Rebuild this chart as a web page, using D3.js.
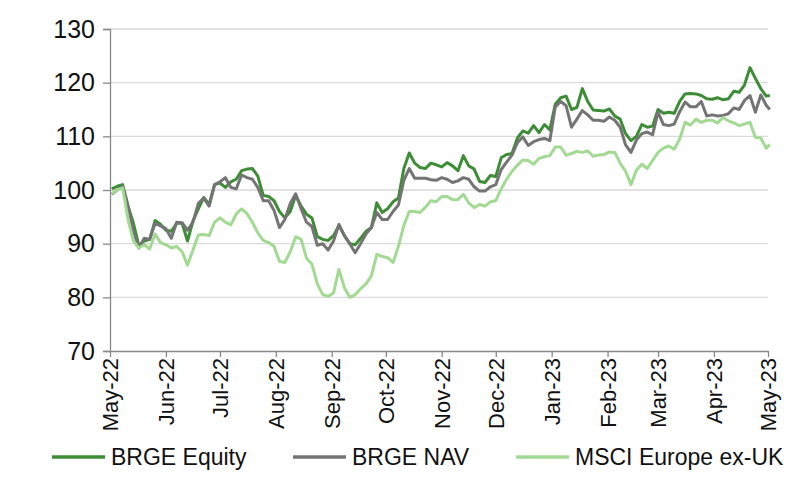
<!DOCTYPE html>
<html>
<head>
<meta charset="utf-8">
<script src="https://cdn.jsdelivr.net/npm/d3@7"></script>
<style>
  body { margin: 0; background: #fff; }
  text { font-family: "Liberation Sans", Arial, sans-serif; fill: #111; }
</style>
</head>
<body>
<svg id="chart" width="800" height="484"></svg>
<script>
// sample dates (every 3 days)
const dates = [
  "2022-05-02","2022-05-05","2022-05-08","2022-05-11","2022-05-14","2022-05-17","2022-05-20","2022-05-23","2022-05-26","2022-05-29",
  "2022-06-01","2022-06-04","2022-06-07","2022-06-10","2022-06-13","2022-06-16","2022-06-19","2022-06-22","2022-06-25","2022-06-28",
  "2022-07-01","2022-07-04","2022-07-07","2022-07-10","2022-07-13","2022-07-16","2022-07-19","2022-07-22","2022-07-25","2022-07-28","2022-07-31",
  "2022-08-03","2022-08-06","2022-08-09","2022-08-12","2022-08-15","2022-08-18","2022-08-21","2022-08-24","2022-08-27","2022-08-30",
  "2022-09-02","2022-09-05","2022-09-08","2022-09-11","2022-09-14","2022-09-17","2022-09-20","2022-09-23","2022-09-26","2022-09-29",
  "2022-10-02","2022-10-05","2022-10-08","2022-10-11","2022-10-14","2022-10-17","2022-10-20","2022-10-23","2022-10-26","2022-10-29",
  "2022-11-01","2022-11-04","2022-11-07","2022-11-10","2022-11-13","2022-11-16","2022-11-19","2022-11-22","2022-11-25","2022-11-28",
  "2022-12-01","2022-12-04","2022-12-07","2022-12-10","2022-12-13","2022-12-16","2022-12-19","2022-12-22","2022-12-25","2022-12-28","2022-12-31",
  "2023-01-03","2023-01-06","2023-01-09","2023-01-12","2023-01-15","2023-01-18","2023-01-21","2023-01-24","2023-01-27","2023-01-30",
  "2023-02-02","2023-02-05","2023-02-08","2023-02-11","2023-02-14","2023-02-17","2023-02-20","2023-02-23","2023-02-26",
  "2023-03-01","2023-03-04","2023-03-07","2023-03-10","2023-03-13","2023-03-16","2023-03-19","2023-03-22","2023-03-25","2023-03-28","2023-03-31",
  "2023-04-03","2023-04-06","2023-04-09","2023-04-12","2023-04-15","2023-04-18","2023-04-21","2023-04-24","2023-04-27","2023-04-30","2023-05-02"
];

const equity = [
  100.2, 100.7, 101.0, 97.0, 93.8, 89.6, 90.5, 90.8, 94.3, 93.6,
  92.5, 92.3, 93.8, 93.8, 90.5, 94.2, 96.5, 98.6, 97.3, 101.0,
  101.3, 100.5, 101.5, 102.0, 103.6, 103.9, 104.0, 102.6, 99.0, 98.8, 98.0,
  96.0, 94.8, 96.0, 99.0, 97.0, 95.5, 94.8, 91.3, 90.8, 90.6,
  91.5, 93.4, 91.5, 90.0, 89.8, 91.0, 92.3, 93.0, 97.6, 95.8,
  96.5, 97.8, 98.5, 104.0, 106.9, 105.0, 104.2, 104.0, 105.0, 104.7,
  104.3, 105.1, 104.5, 103.6, 106.4, 104.5, 103.9, 101.6, 101.4, 102.7,
  102.5, 106.0, 106.6, 106.8, 109.7, 111.0, 110.6, 112.0, 110.7, 112.2, 111.2,
  116.0, 117.2, 117.5, 115.0, 115.4, 118.9, 116.5, 114.9, 114.8, 114.7,
  115.1, 113.8, 113.2, 110.5, 109.2, 110.0, 112.2, 111.7, 111.9,
  115.0, 114.3, 114.5, 114.3, 116.5, 117.9, 118.0, 117.9, 117.6, 117.0, 116.9,
  117.2, 116.8, 117.0, 118.4, 118.2, 119.6, 122.8, 120.8, 118.9, 117.5, 117.6
];

const nav = [
  99.2, 100.0, 100.7, 97.0, 92.3, 89.2, 91.0, 90.8, 93.8, 93.3,
  92.8, 91.0, 94.0, 93.9, 92.5, 94.0, 97.5, 98.5, 97.0, 101.0,
  101.5, 102.3, 100.5, 100.2, 102.8, 102.3, 102.0, 100.5, 98.0, 98.0, 96.2,
  93.0, 94.5, 97.5, 99.3, 96.5, 94.0, 93.2, 89.7, 90.0, 88.8,
  90.5, 93.6, 91.5, 90.0, 88.3, 90.0, 91.8, 93.0, 95.8, 94.5,
  94.5, 96.0, 97.2, 101.8, 104.0, 102.2, 102.2, 102.2, 101.9, 101.8,
  102.3, 102.0, 101.4, 101.7, 102.3, 102.0, 100.6, 99.8, 99.8, 100.6,
  101.0, 103.8, 105.2, 106.5, 108.8, 109.9, 108.3, 109.0, 109.4, 109.6, 109.2,
  115.5, 116.5, 115.7, 111.7, 113.2, 114.8, 114.0, 113.0, 113.0, 112.8,
  113.6, 113.0, 111.7, 108.4, 107.0, 109.3, 110.5, 110.8, 110.3,
  114.5, 112.2, 112.0, 112.3, 114.6, 116.4, 115.5, 115.5, 116.5, 113.8, 114.0,
  113.8, 113.9, 114.2, 115.3, 115.0, 116.7, 117.6, 114.5, 117.7, 115.8, 115.0
];

const msci = [
  99.3, 100.0, 100.4, 94.5, 90.5, 89.2, 89.8, 89.0, 91.8, 90.2,
  89.8, 89.2, 89.5, 88.5, 86.0, 88.8, 91.6, 91.7, 91.5, 94.0,
  94.8, 94.0, 93.5, 95.5, 96.5, 95.6, 94.0, 92.0, 90.6, 90.2, 89.5,
  86.7, 86.5, 88.5, 91.3, 90.8, 87.3, 86.2, 82.5, 80.5, 80.2,
  80.8, 85.2, 81.8, 80.0, 80.5, 81.6, 82.5, 84.0, 88.0, 87.6,
  87.4, 86.5, 89.5, 93.4, 96.0, 96.0, 95.8, 96.8, 98.0, 97.8,
  98.8, 98.8, 98.2, 98.2, 99.2, 97.6, 96.7, 97.3, 97.0, 97.8,
  98.0, 100.2, 102.0, 103.5, 104.6, 105.6, 105.5, 104.8, 105.9, 106.2, 106.4,
  108.0, 108.0, 106.5, 106.8, 107.2, 107.0, 107.3, 106.3, 106.5, 106.6,
  107.1, 107.0, 105.0, 103.5, 101.0, 103.7, 104.8, 104.0, 105.5,
  107.0, 107.8, 108.2, 107.6, 109.5, 112.6, 112.1, 113.2, 112.6, 113.0, 113.0,
  112.5, 113.5, 112.9, 112.5, 112.0, 112.3, 112.6, 109.8, 109.7, 107.8, 108.5
];

const seriesNames = ["BRGE Equity", "BRGE NAV", "MSCI Europe ex-UK"];
const seriesColors = ["#3d8c36", "#747474", "#a3da93"];
const yTicks = [70, 80, 90, 100, 110, 120, 130];

const parse = d3.timeParse("%Y-%m-%d");
const series = [equity, nav, msci].map((vals, i) => ({
  name: seriesNames[i],
  color: seriesColors[i],
  points: vals.map((v, j) => ({ date: parse(dates[j]), value: v }))
}));

const svg = d3.select("#chart");
const plotLeft = 110, plotRight = 768, plotTop = 29, plotBottom = 351;

const x = d3.scaleTime()
  .domain([new Date(2022, 4, 1), new Date(2023, 4, 1)])
  .range([plotLeft, plotRight]);

const y = d3.scaleLinear()
  .domain([70, 130])
  .range([plotBottom, plotTop]);

// gridlines
svg.append("g")
  .selectAll("line")
  .data(yTicks.filter(d => d > 70))
  .join("line")
  .attr("x1", plotLeft).attr("x2", plotRight)
  .attr("y1", d => y(d)).attr("y2", d => y(d))
  .attr("stroke", "#d9d9d9").attr("stroke-width", 1.3);

// y axis
let yAxis = svg.append("g")
  .attr("transform", `translate(${plotLeft},0)`)
  .call(d3.axisLeft(y).tickValues(yTicks).tickSize(7).tickPadding(8));
yAxis.select(".domain").attr("stroke", "#888").attr("stroke-width", 1.3);
yAxis.selectAll(".tick line").attr("stroke", "#888").attr("stroke-width", 1.3);
yAxis.selectAll(".tick text")
  .attr("font-size", "25px")
  .attr("fill", "#111")
  .style("font-family", "'Liberation Sans', Arial, sans-serif");

// x axis
let xAxis = svg.append("g")
  .attr("transform", `translate(0,${plotBottom})`)
  .call(d3.axisBottom(x)
    .ticks(d3.timeMonth.every(1))
    .tickFormat(d3.timeFormat("%b-%y"))
    .tickSize(6)
    .tickSizeOuter(0));
xAxis.select(".domain").attr("stroke", "#888").attr("stroke-width", 1.3);
xAxis.selectAll(".tick line").attr("stroke", "#888").attr("stroke-width", 1.3);
xAxis.selectAll(".tick text")
  .attr("font-size", "22px")
  .attr("fill", "#111")
  .style("font-family", "'Liberation Sans', Arial, sans-serif")
  .attr("text-anchor", "end")
  .attr("transform", "rotate(-90)")
  .attr("x", -7)
  .attr("y", 0)
  .attr("dy", "0.35em");

// lines
let line = d3.line()
  .x(d => x(d.date))
  .y(d => y(d.value));

svg.append("g")
  .selectAll("path")
  .data(series)
  .join("path")
  .attr("d", d => line(d.points))
  .attr("fill", "none")
  .attr("stroke", d => d.color)
  .attr("stroke-width", 3)
  .attr("stroke-linejoin", "round");

// legend
const legendX = [52, 293, 516];
let legend = svg.append("g")
  .selectAll("g")
  .data(series)
  .join("g")
  .attr("transform", (d, i) => `translate(${legendX[i]},457)`);
legend.append("line")
  .attr("x1", 0).attr("x2", 53)
  .attr("stroke", d => d.color)
  .attr("stroke-width", 3.5);
legend.append("text")
  .attr("x", 59)
  .attr("dy", "0.36em")
  .attr("font-size", "23px")
  .text(d => d.name);
</script>
</body>
</html>
